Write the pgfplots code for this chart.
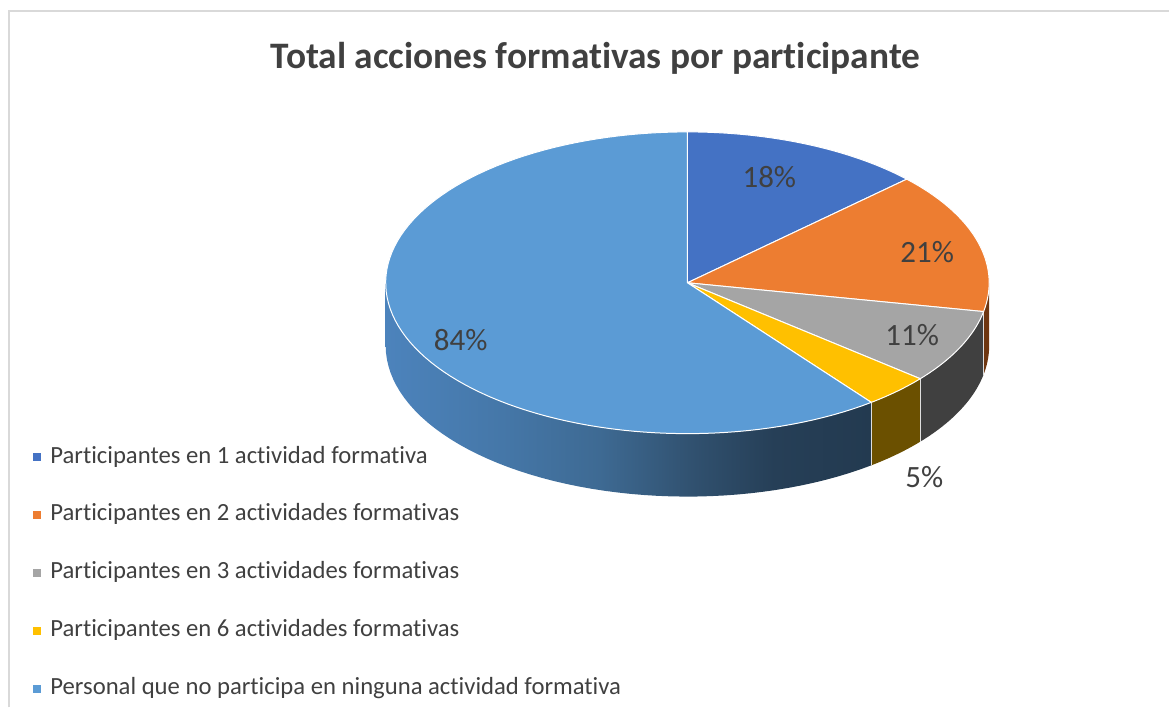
\documentclass[border=0pt]{standalone}
\usepackage{fontspec}
\setmainfont{Carlito}[Ligatures=NoCommon]
\usepackage{pgfplots}
\usepackage{pgfplotstable}
\pgfplotsset{compat=1.18}
\definecolor{cA}{HTML}{4472C4}
\definecolor{cB}{HTML}{ED7D31}
\definecolor{cC}{HTML}{A5A5A5}
\definecolor{cD}{HTML}{FFC000}
\definecolor{cE}{HTML}{5B9BD5}
\definecolor{sideB}{HTML}{6E3610}
\definecolor{sideC}{HTML}{404040}
\definecolor{sideD}{HTML}{6B5000}
\definecolor{txt}{HTML}{404040}
\definecolor{frame}{HTML}{D9D9D9}
\definecolor{bw1}{HTML}{4C83BC}
\definecolor{bw2}{HTML}{4577A8}
\definecolor{bw3}{HTML}{3E6A93}
\definecolor{bw4}{HTML}{30506E}
\definecolor{bw5}{HTML}{263F57}
\definecolor{bw6}{HTML}{233A50}
\pgfdeclarehorizontalshading{bluewall}{100bp}{color(0bp)=(bw1); color(25bp)=(bw1); color(37bp)=(bw2); color(47bp)=(bw3); color(57bp)=(bw4); color(65bp)=(bw5); color(75bp)=(bw6); color(100bp)=(bw6)}

\pgfplotstableread{
value
18
21
11
5
84
}\pietable
\pgfplotstablegetelem{0}{value}\of\pietable\edef\vA{\pgfplotsretval}
\pgfplotstablegetelem{1}{value}\of\pietable\edef\vB{\pgfplotsretval}
\pgfplotstablegetelem{2}{value}\of\pietable\edef\vC{\pgfplotsretval}
\pgfplotstablegetelem{3}{value}\of\pietable\edef\vD{\pgfplotsretval}
\pgfplotstablegetelem{4}{value}\of\pietable\edef\vE{\pgfplotsretval}
\pgfmathsetmacro\tot{\vA+\vB+\vC+\vD+\vE}
\pgfmathsetmacro\aA{90}
\pgfmathsetmacro\aB{\aA-360/\tot*\vA}
\pgfmathsetmacro\aC{\aB-360/\tot*\vB}
\pgfmathsetmacro\aD{\aC-360/\tot*\vC}
\pgfmathsetmacro\aE{\aD-360/\tot*\vD}
\pgfmathsetmacro\aF{\aE-360/\tot*\vE}

\begin{document}
\begin{tikzpicture}
\begin{axis}[
  scale only axis, width=585pt, height=354pt,
  xmin=0, xmax=1170, ymin=0, ymax=708, y dir=reverse,
  hide axis, clip=false,
  declare function={
    topt(\s,\a,\b)=(\s<150)*(\a+(\b-\a)*\s/100)+(\s>=150)*\a;
    topr(\s)=(\s<150)+(\s>250);
    sidet(\s,\a,\b)=(\s<150)*(\a+(\b-\a)*\s/100)+(\s>=150)*(\b-(\b-\a)*(\s-200)/100);
    sidey(\s)=(\s>150)*63;
  },
  legend cell align=left,
  legend image code/.code={\fill[#1, draw=none] (0pt,-2pt) rectangle (4pt,2pt); \path[draw=none, fill=none] (0pt,0pt) -- (6.5pt,0pt);},
  legend style={at={(axis cs:33,443)}, anchor=north west, draw=none, fill=none,
    inner sep=0pt, row sep=15pt, font=\fontsize{12.35}{14}\selectfont, text=txt,
    nodes={text height=9pt, text depth=3pt, inner ysep=1pt}},
]
\path (axis cs:0,0) rectangle (axis cs:1170,708);
\draw[frame, line width=1pt] (axis cs:9,708) -- (axis cs:9,11) -- (axis cs:1170,11);
% side walls
\addplot[forget plot, draw=none, shade, shading=bluewall, variable=\q, samples at={0,2,...,100,200,202,...,300}]
  ({688+302*cos(sidet(\q,-180,\aE))},{283-151*sin(sidet(\q,-180,\aE))+sidey(\q)});
\addplot[forget plot, draw=none, fill=sideD, variable=\q, samples at={0,5,...,100,200,205,...,300}]
  ({688+302*cos(sidet(\q,\aE,\aD))},{283-151*sin(sidet(\q,\aE,\aD))+sidey(\q)});
\addplot[forget plot, draw=none, fill=sideC, variable=\q, samples at={0,5,...,100,200,205,...,300}]
  ({688+302*cos(sidet(\q,\aD,\aC))},{283-151*sin(sidet(\q,\aD,\aC))+sidey(\q)});
\addplot[forget plot, draw=none, fill=sideB, variable=\q, samples at={0,5,...,100,200,205,...,300}]
  ({688+302*cos(sidet(\q,\aC,0))},{283-151*sin(sidet(\q,\aC,0))+sidey(\q)});
\draw[white!75!gray, line width=0.5pt] (axis cs:{688+302*cos(\aE)},{283-151*sin(\aE)}) -- ++(axis direction cs:0,63);
\draw[white!75!gray, line width=0.5pt] (axis cs:{688+302*cos(\aD)},{283-151*sin(\aD)}) -- ++(axis direction cs:0,63);
\draw[white!75!gray, line width=0.5pt] (axis cs:{688+302*cos(\aC)},{283-151*sin(\aC)}) -- ++(axis direction cs:0,63);
% top faces
\addplot[fill=cA, draw=white, line width=0.5pt, variable=\q, samples at={0,2,...,100,200,300}]
  ({688+topr(\q)*302*cos(topt(\q,\aA,\aB))},{283-topr(\q)*151*sin(topt(\q,\aA,\aB))});
\addlegendentry{Participantes en 1 actividad formativa}
\addplot[fill=cB, draw=white, line width=0.5pt, variable=\q, samples at={0,2,...,100,200,300}]
  ({688+topr(\q)*302*cos(topt(\q,\aB,\aC))},{283-topr(\q)*151*sin(topt(\q,\aB,\aC))});
\addlegendentry{Participantes en 2 actividades formativas}
\addplot[fill=cC, draw=white, line width=0.5pt, variable=\q, samples at={0,2,...,100,200,300}]
  ({688+topr(\q)*302*cos(topt(\q,\aC,\aD))},{283-topr(\q)*151*sin(topt(\q,\aC,\aD))});
\addlegendentry{Participantes en 3 actividades formativas}
\addplot[fill=cD, draw=white, line width=0.5pt, variable=\q, samples at={0,2,...,100,200,300}]
  ({688+topr(\q)*302*cos(topt(\q,\aD,\aE))},{283-topr(\q)*151*sin(topt(\q,\aD,\aE))});
\addlegendentry{Participantes en 6 actividades formativas}
\addplot[fill=cE, draw=white, line width=0.5pt, variable=\q, samples at={0,1,...,100,200,300}]
  ({688+topr(\q)*302*cos(topt(\q,\aE,\aF))},{283-topr(\q)*151*sin(topt(\q,\aE,\aF))});
\addlegendentry{Personal que no participa en ninguna actividad formativa}
% labels
\begin{scope}[every node/.style={text=txt, font=\fontsize{15.5}{18}\selectfont}]
\node at (axis cs:770,177) {18\%};
\node at (axis cs:928,252) {21\%};
\node at (axis cs:913,335) {11\%};
\node at (axis cs:925,477) {5\%};
\node at (axis cs:461,340) {84\%};
\end{scope}
\node[text=txt, font=\fontsize{18.7}{22}\selectfont\bfseries] at (axis cs:596,58) {Total acciones formativas por participante};
\end{axis}
\end{tikzpicture}
\end{document}
